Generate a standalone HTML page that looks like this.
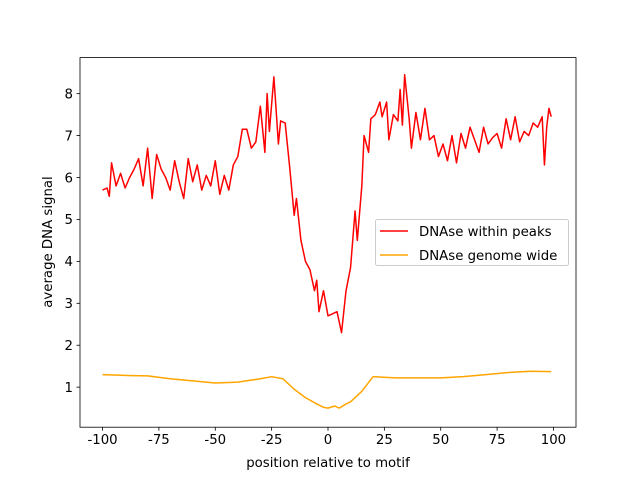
<!DOCTYPE html>
<html><head><meta charset="utf-8"><style>
body{margin:0;background:#fff}
svg text{font-family:"DejaVu Sans","Liberation Sans",sans-serif;fill:#000}
</style></head><body>
<svg id="chart" width="640" height="480">
<rect width="640" height="480" fill="#fff"/>
<g id="plot"></g>
</svg>
<script>
const xPeaks=[-100,-98,-97,-96,-94,-92,-90,-88,-86,-84,-82,-80,-78,-76,-74,-72,-70,-68,-66,-64,-62,-60,-58,-56,-54,-52,-50,-48,-46,-44,-42,-40,-38,-36,-34,-32,-30,-28,-27,-26,-24,-22,-21,-19,-17,-15,-14,-12,-10,-8,-6,-5,-4,-2,0,2,4,6,8,10,12,13,15,16,18,19,21,23,24,26,27,29,31,32,33,34,36,37,39,41,43,45,47,49,51,53,55,57,59,61,63,65,67,69,71,73,75,77,79,81,83,85,87,89,91,93,95,96,97,98,99];
const yPeaks=[5.7,5.75,5.55,6.35,5.8,6.1,5.75,6.0,6.2,6.45,5.8,6.7,5.5,6.55,6.2,6.0,5.7,6.4,5.9,5.5,6.45,5.9,6.3,5.7,6.05,5.8,6.4,5.6,6.05,5.7,6.3,6.5,7.15,7.15,6.7,6.85,7.7,6.6,8.0,7.1,8.4,6.8,7.35,7.3,6.25,5.1,5.5,4.5,4.0,3.8,3.3,3.55,2.8,3.3,2.7,2.75,2.8,2.3,3.3,3.85,5.2,4.5,5.8,7.0,6.6,7.4,7.5,7.8,7.45,7.8,6.9,7.5,7.35,8.1,7.25,8.45,7.4,6.7,7.55,6.9,7.65,6.9,7.0,6.5,6.8,6.4,7.0,6.35,7.05,6.7,7.2,6.9,6.6,7.2,6.8,6.95,7.05,6.7,7.4,6.9,7.45,6.85,7.1,7.0,7.3,7.2,7.45,6.3,7.2,7.65,7.45];
const xGenome=[-100,-90,-80,-70,-60,-50,-40,-30,-25,-20,-15,-10,-5,-2,0,3,5,8,10,15,20,30,40,50,60,70,80,90,99];
const yGenome=[1.3,1.28,1.27,1.2,1.15,1.1,1.12,1.2,1.25,1.2,0.95,0.75,0.6,0.52,0.5,0.55,0.5,0.6,0.65,0.9,1.25,1.22,1.22,1.22,1.25,1.3,1.35,1.38,1.37];
const xTicks=[-100,-75,-50,-25,0,25,50,75,100];
const yTicks=[1,2,3,4,5,6,7,8];
const L=80,R=576,T=57.6,B=427.2,xmin=-110,xmax=110,ymin=0.045,ymax=8.86;
const X=v=>L+(v-xmin)/(xmax-xmin)*(R-L);
const Y=v=>B-(v-ymin)/(ymax-ymin)*(B-T);
const g=document.getElementById('plot');const NS='http://www.w3.org/2000/svg';
function mk(t,a,p){const e=document.createElementNS(NS,t);for(const k in a)e.setAttribute(k,a[k]);(p||g).appendChild(e);return e;}
function line(xs,ys,c,name){const e=mk('polyline',{points:xs.map((x,i)=>X(x)+','+Y(ys[i])).join(' '),fill:'none',stroke:c,'stroke-width':1.5,'stroke-linejoin':'round'});

}
line(xPeaks,yPeaks,'#ff0000','series-dnase-within-peaks');
line(xGenome,yGenome,'#ffa500','series-dnase-genome-wide');
const fr=mk('rect',{x:L,y:T,width:R-L,height:B-T,fill:'none',stroke:'#000','stroke-width':0.8});


xTicks.forEach(v=>{mk('line',{x1:X(v),x2:X(v),y1:B,y2:B+3.5,stroke:'#000','stroke-width':0.8});
const t=mk('text',{x:X(v),y:B+17,'text-anchor':'middle','font-size':'13.3'});t.textContent=v;

});
yTicks.forEach(v=>{mk('line',{x1:L-3.5,x2:L,y1:Y(v),y2:Y(v),stroke:'#000','stroke-width':0.8});
const t=mk('text',{x:L-7,y:Y(v)+4.8,'text-anchor':'end','font-size':'13.3'});t.textContent=v;

});
const xt=mk('text',{x:(L+R)/2,y:467,'text-anchor':'middle','font-size':'13.3'});xt.textContent='position relative to motif';


const yt=mk('text',{x:0,y:0,'text-anchor':'middle','font-size':'13.3',transform:'translate(52,242) rotate(-90)'});yt.textContent='average DNA signal';


const lg=mk('g',{});


mk('rect',{x:375.5,y:219.5,width:193,height:46,rx:2,fill:'#fff','fill-opacity':0.8,stroke:'#ccc'},lg);
mk('line',{x1:380,x2:408,y1:231,y2:231,stroke:'#ff0000','stroke-width':1.5},lg);
mk('line',{x1:380,x2:408,y1:255,y2:255,stroke:'#ffa500','stroke-width':1.5},lg);
const l1=mk('text',{x:419,y:236,'font-size':'13.3'},lg);l1.textContent='DNAse within peaks';


const l2=mk('text',{x:419,y:260,'font-size':'13.3'},lg);l2.textContent='DNAse genome wide';


</script>
</body></html>
